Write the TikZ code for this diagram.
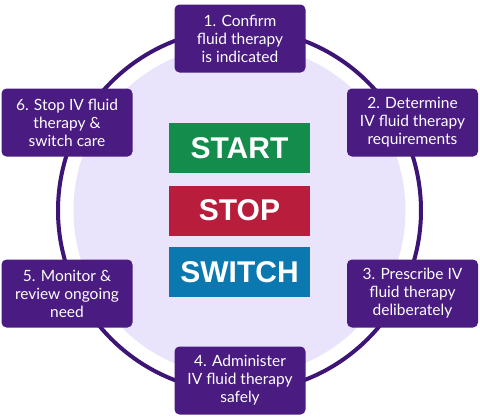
\documentclass[tikz,border=0pt]{standalone}
\usepackage{fontspec}
\setmainfont{Lato}
\newfontfamily\boldsans{Liberation Sans}
\definecolor{ringc}{HTML}{3D1576}
\definecolor{boxc}{HTML}{4A1B80}
\definecolor{fillc}{HTML}{E9E3FC}
\definecolor{greenc}{HTML}{138C4C}
\definecolor{redc}{HTML}{B81E3B}
\definecolor{bluec}{HTML}{0B79B0}
\tikzset{
  stepbox/.style={fill=boxc, rounded corners=5pt, minimum width=131pt, minimum height=68pt,
    text=white, align=center, font=\fontsize{15.5}{18}\selectfont, inner sep=0pt},
  bigbox/.style={minimum width=141pt, minimum height=50pt, text=white,
    font=\boldsans\bfseries\fontsize{30}{30}\selectfont, inner sep=0pt}
}
\begin{document}
\begin{tikzpicture}[x=1pt,y=-1pt]
\useasboundingbox (0,0) rectangle (480,418);
\coordinate (c) at (239.5,210.5);
\fill[fillc] (c) circle (166);
\draw[ringc, line width=4pt] (c) circle (181.5);
\node[stepbox] (s1) at (240,38.5) {1. Confirm\\fluid therapy\\is indicated};
\node[stepbox] (s2) at (412.5,122.5) {2. Determine\\IV fluid therapy\\requirements};
\node[stepbox] (s3) at (412.5,293.5) {3. Prescribe IV\\fluid therapy\\deliberately};
\node[stepbox] (s4) at (240,380.5) {4. Administer\\IV fluid therapy\\safely};
\node[stepbox] (s5) at (67,293.5) {5. Monitor \&\\review ongoing\\need};
\node[stepbox] (s6) at (67,122.5) {6. Stop IV fluid\\therapy \&\\switch care};
\node[bigbox, fill=greenc] (start) at (239.5,148) {START};
\node[bigbox, fill=redc] (stop) at (239.5,210.5) {STOP};
\node[bigbox, fill=bluec] (switch) at (239.5,272) {SWITCH};
\end{tikzpicture}
\end{document}
